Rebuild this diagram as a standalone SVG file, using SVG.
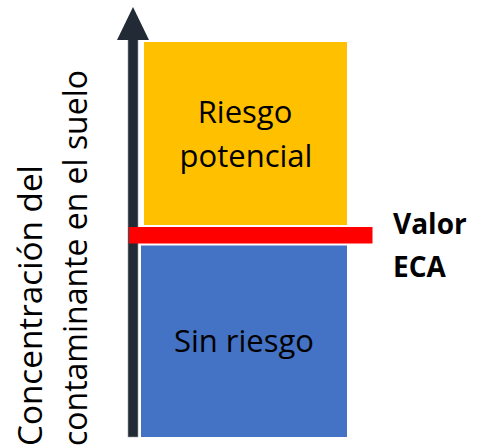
<svg xmlns="http://www.w3.org/2000/svg" width="477" height="447" viewBox="0 0 477 447">
  <style>
    .lbl { font-family: "Open Sans", "Liberation Sans", sans-serif; fill: #000000; }
    .box { font-size: 31px; text-anchor: middle; }
    .eca { font-size: 28px; font-weight: bold; }
    .axis { font-size: 32px; }
  </style>
  <rect width="477" height="447" fill="#ffffff"/>
  <g id="riesgo-potencial">
    <rect x="144" y="42" width="203" height="183" fill="#FFC000"/>
    <text class="lbl box" x="245" y="123">Riesgo</text>
    <text class="lbl box" x="246" y="167">potencial</text>
  </g>
  <g id="sin-riesgo">
    <rect x="141" y="245.5" width="206" height="191.5" fill="#4472C4"/>
    <text class="lbl box" x="244" y="352">Sin riesgo</text>
  </g>
  <g id="connectors">
    <rect x="128" y="38" width="10" height="399" fill="#222A35" stroke="#9aa0a6" stroke-width="0.6"/>
    <polygon points="133,7 117,40 149,40" fill="#222A35"/>
  </g>
  <g id="valor-eca">
    <rect x="129" y="227" width="243.5" height="16.5" fill="#FF0000"/>
    <text class="lbl eca" x="393" y="234">Valor</text>
    <text class="lbl eca" x="393" y="277">ECA</text>
  </g>
  <g id="eje-label">
    <text class="lbl axis" transform="translate(42,446) rotate(-90)" textLength="281" lengthAdjust="spacingAndGlyphs">Concentración del</text>
    <text class="lbl axis" transform="translate(87,446) rotate(-90)" textLength="376" lengthAdjust="spacingAndGlyphs">contaminante en el suelo</text>
  </g>
</svg>
